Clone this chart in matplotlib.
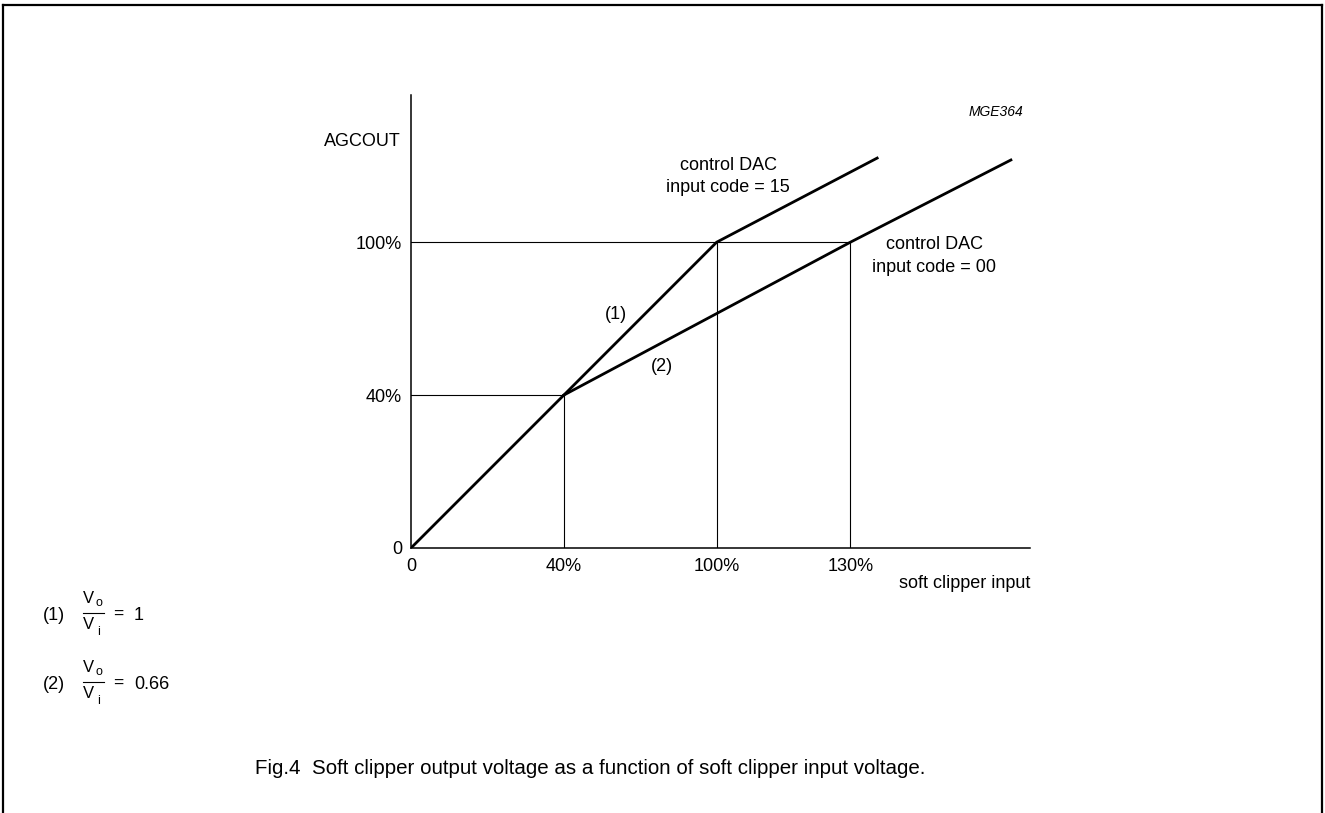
#!/usr/bin/env python3
"""Soft clipper transfer characteristic (Fig.4), redrawn."""

import matplotlib
matplotlib.use("Agg")
import matplotlib.pyplot as plt

plt.rcParams.update({
    "font.family": ["Liberation Sans", "DejaVu Sans"],
    "font.size": 13,
    "text.color": "black",
})

# schematic units (diagram is not to scale): tick positions and labels
X_TICKS = [0, 40, 80, 115]
X_LABELS = ["0", "40%", "100%", "130%"]
Y_TICKS = [0, 40, 80]
Y_LABELS = ["0", "40%", "100%"]

# curve (1): control DAC input code = 15
CURVE1_X = [0, 40, 80, 122]
CURVE1_Y = [0, 40, 80, 102]
# curve (2): control DAC input code = 00
CURVE2_X = [40, 115, 157]
CURVE2_Y = [40, 80, 101.5]

W, H = 1325, 813
fig = plt.figure(figsize=(W / 100, H / 100), dpi=100)
fig.patch.set_facecolor("white")

# page-level overlay in pixel coordinates
bg = fig.add_axes([0, 0, 1, 1])
bg.set_xlim(0, W)
bg.set_ylim(H, 0)
bg.axis("off")
bg.plot([3, 1322], [5, 5], color="black", lw=1.6)
bg.plot([3, 3], [5, H], color="black", lw=1.6)
bg.plot([1322, 1322], [5, H], color="black", lw=1.6)

# chart axes
X0, X1, Y0, Y1 = 411, 1030, 548, 95
ax = fig.add_axes([X0 / W, (H - Y0) / H, (X1 - X0) / W, (Y0 - Y1) / H])
ax.set_xlim(0, 162)
ax.set_ylim(0, 118.5)
ax.patch.set_alpha(0)
for s in ["top", "right"]:
    ax.spines[s].set_visible(False)
for s in ["left", "bottom"]:
    ax.spines[s].set_linewidth(1.1)

ax.set_xticks(X_TICKS)
ax.set_xticklabels(X_LABELS)
ax.set_yticks(Y_TICKS)
ax.set_yticklabels(Y_LABELS)
ax.tick_params(axis="x", length=0, pad=7, labelsize=13)
ax.tick_params(axis="y", length=0, pad=6.5, labelsize=13)

# guide lines
ax.plot([0, X_TICKS[1], X_TICKS[1]], [Y_TICKS[1], Y_TICKS[1], 0], color="black", lw=0.8)
ax.plot([0, X_TICKS[3]], [Y_TICKS[2], Y_TICKS[2]], color="black", lw=0.8)
ax.plot([X_TICKS[2], X_TICKS[2]], [0, Y_TICKS[2]], color="black", lw=0.8)
ax.plot([X_TICKS[3], X_TICKS[3]], [0, Y_TICKS[2]], color="black", lw=0.8)

# curves
ax.plot(CURVE1_X, CURVE1_Y, color="black", lw=2.0, solid_joinstyle="miter")
ax.plot(CURVE2_X, CURVE2_Y, color="black", lw=2.0, solid_joinstyle="miter")

# annotations (pixel coordinates on overlay)
bg.text(401, 141, "AGCOUT", ha="right", va="center", fontsize=13)
bg.text(996, 112, "MGE364", ha="center", va="center", fontsize=10, style="italic")
bg.text(728, 165, "control DAC", ha="center", va="center", fontsize=13)
bg.text(728, 188, "input code = 15", ha="center", va="center", fontsize=13)
bg.text(934, 244, "control DAC", ha="center", va="center", fontsize=13)
bg.text(934, 267, "input code = 00", ha="center", va="center", fontsize=13)
bg.text(616, 314, "(1)", ha="center", va="center", fontsize=13)
bg.text(662, 366, "(2)", ha="center", va="center", fontsize=13)
bg.text(965, 583, "soft clipper input", ha="center", va="center", fontsize=13)

# legend equations
for k, (tag, val) in enumerate([("(1)", "1"), ("(2)", "0.66")]):
    yc = 613 + k * 69
    bg.text(43, yc + 2, tag, ha="left", va="center", fontsize=13)
    bg.plot([83, 104], [yc, yc], color="black", lw=0.8)
    bg.text(83, yc - 15, "V", ha="left", va="center", fontsize=12)
    bg.text(95.5, yc - 10, "o", ha="left", va="center", fontsize=9)
    bg.text(83, yc + 11, "V", ha="left", va="center", fontsize=12)
    bg.text(97, yc + 19, "i", ha="left", va="center", fontsize=9)
    bg.text(113, yc + 1, "=", ha="left", va="center", fontsize=12.5)
    bg.text(134, yc + 2, val, ha="left", va="center", fontsize=13)

bg.text(255, 768, "Fig.4  Soft clipper output voltage as a function of soft clipper input voltage.",
        ha="left", va="center", fontsize=14.8)

fig.savefig("out.png", dpi=100, facecolor="white")
